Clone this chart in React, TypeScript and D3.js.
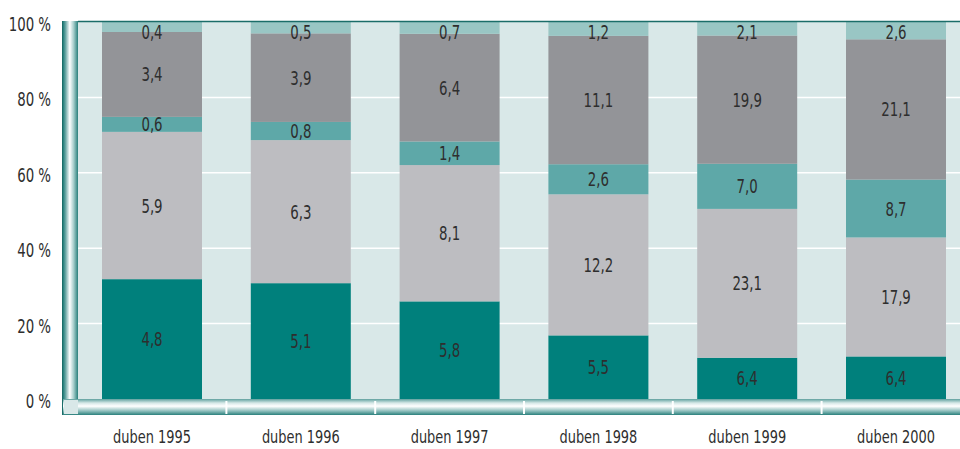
import React, { useEffect, useRef } from 'react';
import * as d3 from 'd3';

const categories = ['duben 1995', 'duben 1996', 'duben 1997', 'duben 1998', 'duben 1999', 'duben 2000'];
const seriesA = [4.8, 5.1, 5.8, 5.5, 6.4, 6.4];
const seriesB = [5.9, 6.3, 8.1, 12.2, 23.1, 17.9];
const seriesC = [0.6, 0.8, 1.4, 2.6, 7.0, 8.7];
const seriesD = [3.4, 3.9, 6.4, 11.1, 19.9, 21.1];
const seriesE = [0.4, 0.5, 0.7, 1.2, 2.1, 2.6];
const yTicks = [0, 20, 40, 60, 80, 100];

const colors = ['#00807c', '#bdbdc1', '#5ea8a8', '#939498', '#99c6c4'];
const font = "'DejaVu Sans Condensed', 'DejaVu Sans', sans-serif";

const App = () => {
  const ref = useRef<SVGSVGElement>(null);

  useEffect(() => {
    const svg = d3.select(ref.current);
    svg.selectAll('*').remove();

    const width = 960;
    const plotLeft = 78;
    const top = 22;
    const bottom = 399;
    const sx = 0.78;

    const series = [seriesA, seriesB, seriesC, seriesD, seriesE];
    const rows = categories.map((c, i) => {
      const total = d3.sum(series, s => s[i]);
      const row: any = { cat: c };
      series.forEach((s, k) => { row['s' + k] = (s[i] / total) * 100; row['v' + k] = s[i]; });
      return row;
    });
    const keys = series.map((_, k) => 's' + k);
    const stacked = d3.stack().keys(keys)(rows);

    const step = 148.8;
    const x = d3.scaleBand()
      .domain(categories)
      .range([77.6, 77.6 + step * 6])
      .paddingInner(0.328)
      .paddingOuter(0.164);
    const y = d3.scaleLinear().domain([0, 100]).range([bottom, top]);

    const defs = svg.append('defs');
    const wallGrad = defs.append('linearGradient').attr('id', 'wall').attr('x1', 0).attr('x2', 1).attr('y1', 0).attr('y2', 0);
    [[0, '#1f7c78'], [0.15, '#5fa09e'], [0.45, '#ffffff'], [0.7, '#a9cfcd'], [1, '#2a807c']]
      .forEach(([o, c]) => wallGrad.append('stop').attr('offset', o as number).attr('stop-color', c as string));
    const floorGrad = defs.append('linearGradient').attr('id', 'floor').attr('x1', 0).attr('x2', 0).attr('y1', 0).attr('y2', 1);
    [[0, '#5fa09e'], [0.25, '#d6e8e7'], [0.45, '#ffffff'], [0.75, '#8fbfbd'], [1, '#2a807c']]
      .forEach(([o, c]) => floorGrad.append('stop').attr('offset', o as number).attr('stop-color', c as string));

    // condensed text helper
    const label = (g: any, size: number, anchor: string) =>
      g.attr('text-anchor', anchor)
        .attr('font-family', font)
        .attr('font-size', size)
        .attr('fill', '#2e2e2e');

    // background
    svg.append('rect').attr('x', plotLeft).attr('y', top).attr('width', width - plotLeft).attr('height', bottom - top + 2)
      .attr('fill', '#d9e8e8');

    // grid
    svg.append('g')
      .selectAll('line')
      .data(yTicks.filter(t => t > 0 && t < 100))
      .join('line')
      .attr('x1', plotLeft).attr('x2', width)
      .attr('y1', d => y(d)).attr('y2', d => y(d))
      .attr('stroke', '#ffffff').attr('stroke-width', 1.5);

    // bars
    const layers = svg.append('g').selectAll('g').data(stacked).join('g')
      .attr('fill', (_, i) => colors[i]);
    layers.selectAll('rect').data(d => d).join('rect')
      .attr('x', d => x(d.data.cat as string)!)
      .attr('width', x.bandwidth())
      .attr('y', d => y(d[1]))
      .attr('height', d => y(d[0]) - y(d[1]));

    // value labels
    stacked.forEach((layer, k) => {
      const last = k === stacked.length - 1;
      label(svg.append('g').selectAll('text').data(layer).join('text'), 19, 'middle')
        .attr('transform', (d: any) => {
          const cx = x(d.data.cat as string)! + x.bandwidth() / 2;
          let by = (y(d[0]) + y(d[1])) / 2 + 7;
          if (last) by = Math.max(by, top + 17);
          else by = Math.min(by, y(d[0]) + 4);
          return `translate(${cx},${by}) scale(${sx},1)`;
        })
        .text((d: any) => d.data['v' + k].toFixed(1).replace('.', ','));
    });

    // top border
    svg.append('line').attr('x1', plotLeft).attr('x2', width).attr('y1', top - 0.5).attr('y2', top - 0.5)
      .attr('stroke', '#1b6d69').attr('stroke-width', 1.5);

    // left wall
    svg.append('rect').attr('x', 63).attr('y', top - 1).attr('width', 15).attr('height', 415 - top + 1)
      .attr('fill', 'url(#wall)');
    // floor
    svg.append('rect').attr('x', 63).attr('y', bottom).attr('width', width - 63).attr('height', 16)
      .attr('fill', 'url(#floor)');
    svg.append('rect').attr('x', 64).attr('y', 400).attr('width', 14).attr('height', 14)
      .attr('fill', '#d9e8e8');
    svg.append('line').attr('x1', 62.5).attr('x2', 62.5).attr('y1', top - 1).attr('y2', 415)
      .attr('stroke', '#1b6d69').attr('stroke-width', 1);

    // floor ticks between bands
    const between = categories.slice(1).map(c => x(c)! - (x.step() - x.bandwidth()) / 2);
    svg.append('g').selectAll('line').data(between).join('line')
      .attr('x1', d => d).attr('x2', d => d).attr('y1', 401).attr('y2', 414)
      .attr('stroke', '#ffffff').attr('stroke-width', 2);

    // y axis labels
    label(svg.append('g').selectAll('text').data(yTicks).join('text'), 19, 'end')
      .attr('transform', (d: number) => `translate(51,${y(d) + 9}) scale(${sx},1)`)
      .text((d: number) => `${d} %`);

    // x labels
    label(svg.append('g').selectAll('text').data(categories).join('text'), 18, 'middle')
      .attr('transform', (d: string) => `translate(${x(d)! + x.bandwidth() / 2},443) scale(0.8,1)`)
      .text((d: string) => d);
  }, []);

  return (
    <svg ref={ref} width={960} height={449} style={{ position: 'absolute', left: 0, top: 0 }} />
  );
};

export default App;
